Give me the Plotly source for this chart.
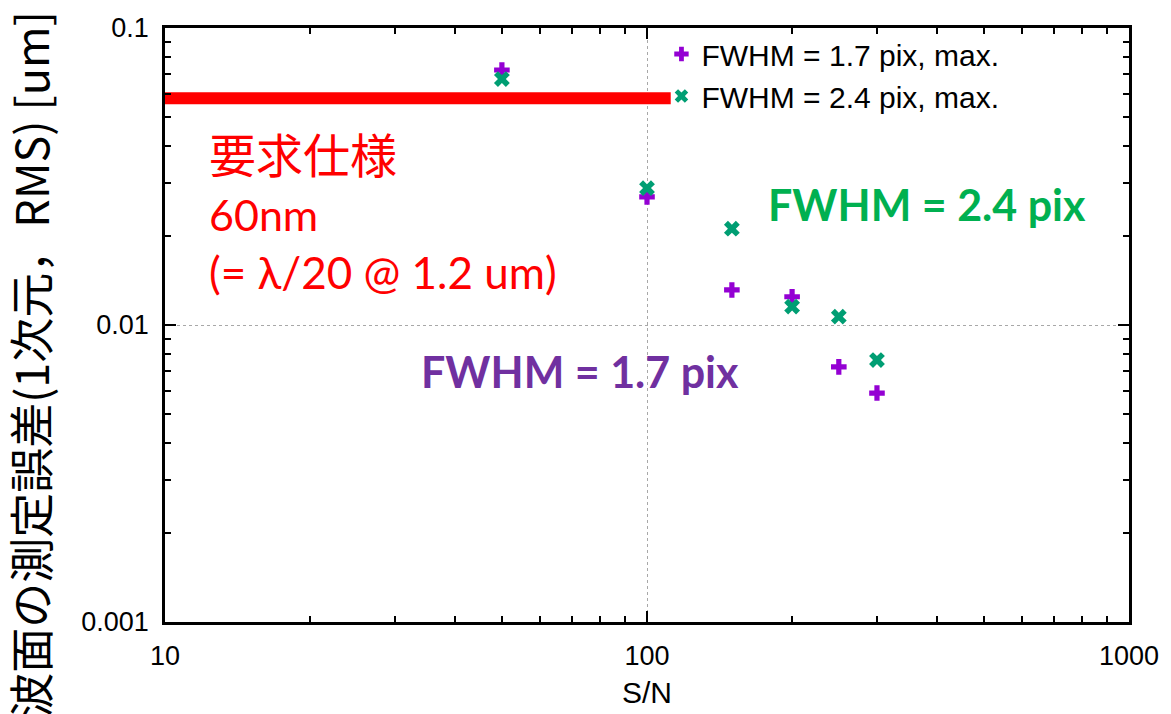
import plotly.graph_objects as go

# ---- data ----
sn = [50, 100, 150, 200, 250, 300]
err_17 = [0.0722, 0.0270, 0.01312, 0.01245, 0.00723, 0.0059]
err_24 = [0.0673, 0.0289, 0.0211, 0.01153, 0.01067, 0.00762]
series_names = ["FWHM = 1.7 pix, max.", "FWHM = 2.4 pix, max."]

spec_value = 0.058          # required spec (60 nm) line level
spec_sn = [10, 112]         # extent of the spec line along S/N

x_tick_major = [10, 100, 1000]
x_ticktext_major = ["10", "100", "1000"]
x_tick_minor = [20, 30, 40, 50, 60, 70, 80, 90,
                200, 300, 400, 500, 600, 700, 800, 900]
y_tick_major = [0.001, 0.01, 0.1]
y_ticktext_major = ["0.001", "0.01", "0.1"]
y_tick_minor = [0.002, 0.003, 0.004, 0.005, 0.006, 0.007, 0.008, 0.009,
                0.02, 0.03, 0.04, 0.05, 0.06, 0.07, 0.08, 0.09]

PURPLE = "#9400D3"
GREEN = "#009E73"
TICKFONT = dict(family="Liberation Sans, Arial, sans-serif", size=27, color="black")

fig = go.Figure()

# spec line
fig.add_trace(go.Scatter(
    x=spec_sn, y=[spec_value, spec_value], mode="lines",
    line=dict(color="#FF0000", width=12), showlegend=False, hoverinfo="skip",
))

fig.add_trace(go.Scatter(
    x=sn, y=err_17, mode="markers", name=series_names[0],
    marker=dict(symbol="cross", size=13, color=PURPLE, line=dict(width=0)),
    cliponaxis=False,
))
fig.add_trace(go.Scatter(
    x=sn, y=err_24, mode="markers", name=series_names[1],
    marker=dict(symbol="x", size=14, color=GREEN, line=dict(width=0)),
    cliponaxis=False,
))
# invisible trace to carry the minor-tick overlay axes
fig.add_trace(go.Scatter(
    x=sn, y=err_17, mode="markers", xaxis="x2", yaxis="y2",
    marker=dict(opacity=0), showlegend=False, hoverinfo="skip",
))

major_common = dict(
    type="log", automargin=False,
    showline=True, linecolor="black", linewidth=2.5, mirror="ticks",
    ticks="inside", ticklen=11, tickwidth=1.5, tickcolor="black",
    showgrid=True, gridcolor="#a8a8a8", griddash="dot", gridwidth=1,
    zeroline=False, tickfont=TICKFONT, tickmode="array",
)
minor_common = dict(
    type="log", automargin=False,
    showline=True, linecolor="black", linewidth=2.5, mirror="ticks",
    ticks="inside", ticklen=6, tickwidth=1.5, tickcolor="black",
    showgrid=False, zeroline=False, showticklabels=False, tickmode="array",
)

fig.update_layout(
    xaxis=dict(**major_common, range=[1, 3],
               tickvals=x_tick_major, ticktext=x_ticktext_major, ticklabelstandoff=8),
    yaxis=dict(**major_common, range=[-3, -1],
               tickvals=y_tick_major, ticktext=y_ticktext_major, ticklabelstandoff=8),
    xaxis2=dict(**minor_common, range=[1, 3], tickvals=x_tick_minor,
                overlaying="x", anchor="y2", side="bottom"),
    yaxis2=dict(**minor_common, range=[-3, -1], tickvals=y_tick_minor,
                overlaying="y", anchor="x2", side="left"),
)

annotations = [
    # y-axis title
    dict(text="波面の測定誤差(1次元，RMS) [um]", textangle=-90,
         xref="paper", yref="paper", x=-0.140, y=0.433,
         xanchor="center", yanchor="middle", showarrow=False,
         font=dict(family="Noto Sans CJK JP", size=45, color="black")),
    # x-axis title
    dict(text="S/N", xref="paper", yref="paper", x=0.5, y=-0.1195,
         xanchor="center", yanchor="middle", showarrow=False,
         font=dict(family="Liberation Sans, Arial, sans-serif", size=30, color="black")),
    # spec description
    dict(text="要求仕様", xref="paper", yref="paper", x=0.0436, y=0.791,
         xanchor="left", yanchor="middle", showarrow=False,
         font=dict(family="Noto Sans CJK JP", size=47, color="#FF0000")),
    dict(text="60nm", xref="paper", yref="paper", x=0.0436, y=0.6852,
         xanchor="left", yanchor="middle", showarrow=False,
         font=dict(family="Lato", size=43, color="#FF0000")),
    dict(text="(= λ/20 @ 1.2 um)", xref="paper", yref="paper", x=0.0436, y=0.5892,
         xanchor="left", yanchor="middle", showarrow=False,
         font=dict(family="Lato", size=44, color="#FF0000")),
    # series labels
    dict(text="<b>FWHM = 2.4 pix</b>", xref="paper", yref="paper", x=0.7905, y=0.7037,
         xanchor="center", yanchor="middle", showarrow=False,
         font=dict(family="Lato", size=43, color="#00B050")),
    dict(text="<b>FWHM = 1.7 pix</b>", xref="paper", yref="paper", x=0.4305, y=0.4209,
         xanchor="center", yanchor="middle", showarrow=False,
         font=dict(family="Lato", size=43, color="#7030A0")),
]

# the page body adds an 8 px offset; margins compensate so the plot frame lands
# at x 165..1129, y 28..622 in the window
fig.update_layout(
    width=1171, height=714,
    margin=dict(l=157, r=50, t=20, b=100, autoexpand=False),
    paper_bgcolor="white", plot_bgcolor="white",
    annotations=annotations,
    legend=dict(
        x=0.515, y=1.0, xanchor="left", yanchor="top",
        bgcolor="rgba(0,0,0,0)", borderwidth=0,
        font=dict(family="Liberation Sans, Arial, sans-serif", size=30, color="black"),
        tracegroupgap=0, itemsizing="constant",
    ),
)

fig.write_html("out.html")
